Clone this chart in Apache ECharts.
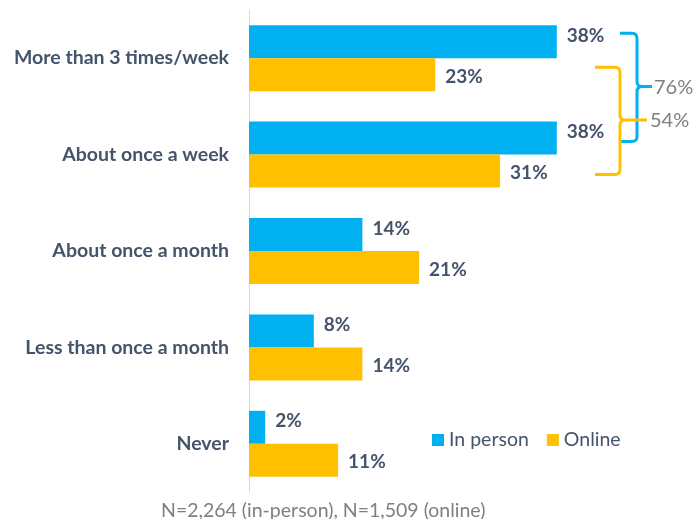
<!DOCTYPE html>
<html><head><meta charset="utf-8">
<script src="https://cdn.jsdelivr.net/npm/echarts@6/dist/echarts.min.js"></script>
<style>html,body{margin:0;padding:0;background:#fff}#c{width:694px;height:519px}</style>
</head><body><div id="c"></div>
<script>
const categories = ["More than 3 times/week","About once a week","About once a month","Less than once a month","Never"];
const inPerson = [38, 38, 14, 8, 2];
const online = [23, 31, 21, 14, 11];
const seriesNames = ["In person","Online"];
const footnote = "N=2,264 (in-person), N=1,509 (online)";
const BLUE = "#00B0F0", ORANGE = "#FFC000", DARK = "#44546A", GRAY = "#7F7F7F";
const FONT = "Lato";

const sumIn = inPerson[0] + inPerson[1];
const sumOn = online[0] + online[1];

function brace(xEnd, xv, top, bottom, mid, tip, r) {
  return `M${xEnd},${top} L${xv-r},${top} Q${xv},${top} ${xv},${top+r} L${xv},${mid-r} Q${xv},${mid} ${xv+r},${mid} L${tip},${mid} ` +
         `M${xv+r},${mid} Q${xv},${mid} ${xv},${mid+r} L${xv},${bottom-r} Q${xv},${bottom} ${xv-r},${bottom} L${xEnd},${bottom}`;
}

const chart = echarts.init(document.getElementById('c'));
function labelStyle(dy) {
  return {show:true, position:'right', distance:10, offset:[0, dy], formatter:'{c}%', color:DARK, fontWeight:'bold', fontSize:19, fontFamily:FONT};
}
chart.setOption({
  animation:false,
  grid:{left:249, right:40, top:10, bottom:27, containLabel:false},
  xAxis:{type:'value', min:0, max:50, show:false},
  yAxis:{type:'category', data:categories, inverse:true,
    axisLine:{show:true, lineStyle:{color:'#D9D9D9', width:1}},
    axisTick:{show:false},
    axisLabel:{color:DARK, fontWeight:'bold', fontSize:19.5, fontFamily:FONT, margin:20}},
  legend:{data:seriesNames, left:427, top:425, itemWidth:12, itemHeight:12, itemGap:18,
    icon:'rect', textStyle:{color:DARK, fontSize:19.5, fontFamily:FONT}},
  title:{text:footnote, left:156, top:496, textStyle:{color:GRAY, fontSize:19.5, fontWeight:'normal', fontFamily:FONT}},
  series:[
    {name:seriesNames[0], type:'bar', data:inPerson, itemStyle:{color:BLUE}, barWidth:33, barGap:'0%', label:labelStyle(-6)},
    {name:seriesNames[1], type:'bar', data:online, itemStyle:{color:ORANGE}, barWidth:33, barGap:'0%', label:labelStyle(2)},
    {type:'custom', silent:true, clip:false, z:10, data:[[0,0]],
     renderItem:function(params, api){
       const c0 = api.coord([0, 0])[1];
       const c1 = api.coord([0, 1])[1];
       const bTop = c0 - 25, bBot = c1 - 13, bMid = (bTop + bBot) / 2 - 1;
       const oTop = c0 + 9, oBot = c1 + 20, oMid = (oTop + oBot) / 2 - 1;
       return {type:'group', children:[
         {type:'path', shape:{pathData:brace(620, 637, bTop, bBot, bMid, 652, 5)}, style:{fill:null, stroke:BLUE, lineWidth:3}},
         {type:'path', shape:{pathData:brace(595, 620, oTop, oBot, oMid, 647, 5)}, style:{fill:null, stroke:ORANGE, lineWidth:3}},
         {type:'text', x:654, y:bMid + 1, style:{text:sumIn+'%', fill:GRAY, fontSize:20, fontFamily:FONT, verticalAlign:'middle'}},
         {type:'text', x:650, y:oMid + 1, style:{text:sumOn+'%', fill:GRAY, fontSize:20, fontFamily:FONT, verticalAlign:'middle'}}
       ]};
     }}
  ]
});
</script></body></html>
